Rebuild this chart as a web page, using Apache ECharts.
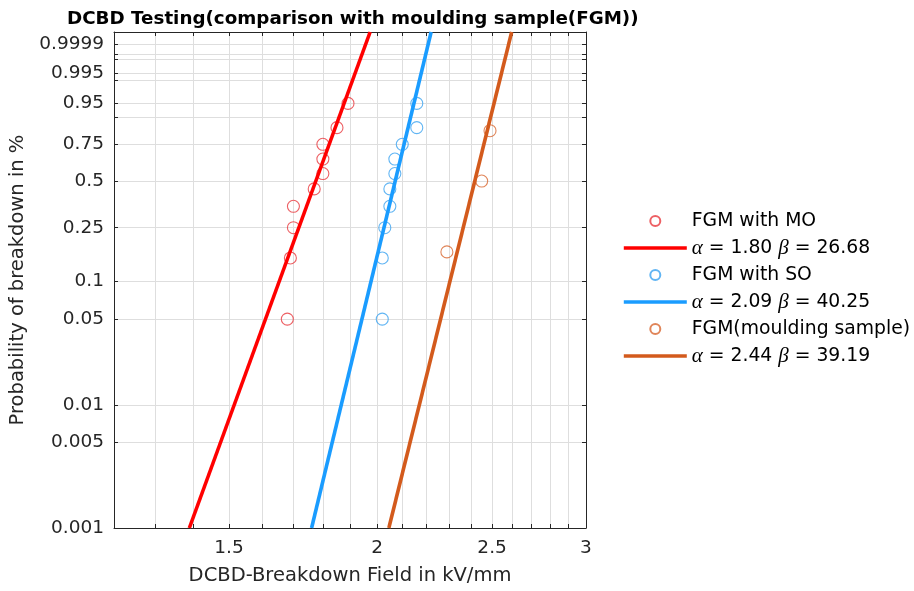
<!DOCTYPE html>
<html><head><meta charset="utf-8">
<script src="https://cdn.jsdelivr.net/npm/echarts@6/dist/echarts.min.js"></script>
<style>html,body{margin:0;padding:0;background:#fff}#c{width:914px;height:591px}</style>
</head><body><div id="c"></div>
<script>
// ---- data ----
const xRange = [1.2, 3];
const xTickLabels = [1.5, 2, 2.5, 3];
const xGridValues = [1.3,1.4,1.5,1.6,1.7,1.8,1.9,2.0,2.1,2.2,2.3,2.4,2.5,2.6,2.7,2.8,2.9];
const yRange = [0.001, 0.99999];
const yTickValues = [0.001,0.005,0.01,0.05,0.1,0.25,0.5,0.75,0.9,0.95,0.99,0.995,0.999,0.9995,0.9999];
const yTickLabels = ['0.001','0.005','0.01','0.05','0.1','0.25','0.5','0.75','0.95','0.995','0.9999'];

const seriesNames = ['FGM with MO', 'FGM with SO', 'FGM(moulding sample)'];
const fitNames = ['α = 1.80 β = 26.68', 'α = 2.09 β = 40.25', 'α = 2.44 β = 39.19'];

const moField = [1.68, 1.69, 1.70, 1.70, 1.77, 1.80, 1.80, 1.80, 1.85, 1.89];
const moProb  = [0.05, 0.15, 0.25, 0.35, 0.45, 0.55, 0.65, 0.75, 0.85, 0.95];
const soField = [2.02, 2.02, 2.03, 2.05, 2.05, 2.07, 2.07, 2.10, 2.16, 2.16];
const soProb  = [0.05, 0.15, 0.25, 0.35, 0.45, 0.55, 0.65, 0.75, 0.85, 0.95];
const fgmField = [2.29, 2.45, 2.49];
const fgmProb  = [0.1667, 0.5, 0.8333];

// fitted lines: field at the bottom (p = 0.001) and top (p = 0.99999) of the plot
const moFit  = [1.389, 1.973];
const soFit  = [1.761, 2.221];
const fgmFit = [2.046, 2.597];
const fitProb = [0.001, 0.99999];

// ---- Weibull paper transforms ----
const X = e => Math.log(e);
const Y = p => Math.log(-Math.log(1 - p));

const markColors = ['#e8383d', '#3aa3f0', '#d8662f'];
const lineColors = ['#ff0000', '#1a9cff', '#d35a1c'];

const FONT = 'DejaVu Sans';
const AX = '#262626';
const GRID = '#dedede';

function pts(field, prob) { return field.map((e, i) => [X(e), Y(prob[i])]); }

const xMin = X(xRange[0]), xMax = X(xRange[1]);
const yMin = Y(yRange[0]), yMax = Y(yRange[1]);
const xTickVals = xGridValues.map(X);
const xLabelVals = xTickLabels.map(X);
const yTickVals = yTickValues.map(Y);
const yLabelVals = yTickLabels.map(s => Y(parseFloat(s)));

function xFmt(v) {
  for (const t of xTickLabels) if (Math.abs(X(t) - v) < 1e-9) return String(t);
  return '';
}
function yFmt(v) {
  for (const s of yTickLabels) if (Math.abs(Y(parseFloat(s)) - v) < 1e-9) return s;
  return '';
}

const scatterData = [pts(moField, moProb), pts(soField, soProb), pts(fgmField, fgmProb)];
const fitData = [moFit, soFit, fgmFit].map(f => [[X(f[0]), Y(fitProb[0])], [X(f[1]), Y(fitProb[1])]]);

const series = [];
const legendData = [];
for (let i = 0; i < 3; i++) {
  series.push({
    name: seriesNames[i], type: 'scatter', symbol: 'circle', symbolSize: 12,
    xAxisIndex: 0, yAxisIndex: 0,
    itemStyle: { color: 'rgba(255,255,255,0)', borderColor: markColors[i], borderWidth: 1.1 },
    data: scatterData[i], z: 3
  });
  series.push({
    name: fitNames[i], type: 'line', symbol: 'none', showSymbol: false,
    xAxisIndex: 0, yAxisIndex: 0,
    lineStyle: { color: lineColors[i], width: 3.6 },
    itemStyle: { color: lineColors[i] },
    data: fitData[i], z: 4
  });
  legendData.push({ name: seriesNames[i] });
  legendData.push({
    name: fitNames[i],
    itemStyle: { color: 'rgba(0,0,0,0)', borderColor: 'rgba(0,0,0,0)', borderWidth: 0 },
    lineStyle: { color: lineColors[i], width: 3.6 }
  });
}

const baseAxisLine = { show: true, onZero: false, lineStyle: { color: AX, width: 1 } };

const option = {
  animation: false,
  backgroundColor: '#fff',
  title: {
    text: 'DCBD Testing(comparison with moulding sample(FGM))',
    left: 62, top: 5,
    textStyle: { fontFamily: FONT, fontWeight: 'bold', fontSize: 18.3, color: '#000' }
  },
  grid: { left: 114, right: 328, top: 32, bottom: 61, containLabel: false },
  legend: {
    data: legendData, orient: 'vertical', left: 617, top: 206,
    itemWidth: 63, itemHeight: 10, itemGap: 6.5,
    lineStyle: { width: 3.6 },
    formatter: n => n.replace(/([αβ])/g, '{g|$1}'),
    textStyle: {
      fontFamily: FONT, fontSize: 18.8, color: '#000', lineHeight: 20,
      rich: { g: { fontFamily: 'Liberation Serif', fontStyle: 'italic', fontSize: 21, lineHeight: 20, color: '#000' } }
    }
  },
  xAxis: [{
    type: 'value', min: xMin, max: xMax, position: 'bottom',
    name: 'DCBD-Breakdown Field in kV/mm', nameLocation: 'middle', nameGap: 38,
    nameTextStyle: { fontFamily: FONT, fontSize: 19.5, color: AX },
    axisLine: baseAxisLine,
    axisTick: { show: true, inside: true, length: 4, customValues: xTickVals, lineStyle: { color: AX } },
    axisLabel: { customValues: xLabelVals, formatter: xFmt, fontFamily: FONT, fontSize: 18.5, color: AX, margin: 11, showMinLabel: true, showMaxLabel: true },
    splitLine: { show: true, lineStyle: { color: GRID, width: 1 } }
  }, {
    type: 'value', min: xMin, max: xMax, position: 'top',
    axisLine: baseAxisLine,
    axisTick: { show: true, inside: true, length: 4, customValues: xTickVals, lineStyle: { color: AX } },
    axisLabel: { show: false }, splitLine: { show: false }
  }],
  yAxis: [{
    type: 'value', min: yMin, max: yMax, position: 'left',
    name: 'Probability of breakdown in %', nameLocation: 'middle', nameGap: 79, nameRotate: 90,
    nameTextStyle: { fontFamily: FONT, fontSize: 19.5, color: AX },
    axisLine: baseAxisLine,
    axisTick: { show: true, inside: true, length: 4, customValues: yTickVals, lineStyle: { color: AX } },
    axisLabel: { customValues: yLabelVals, formatter: yFmt, fontFamily: FONT, fontSize: 18.5, color: AX, margin: 10, showMinLabel: true, showMaxLabel: true },
    splitLine: { show: true, lineStyle: { color: GRID, width: 1 } }
  }, {
    type: 'value', min: yMin, max: yMax, position: 'right',
    axisLine: baseAxisLine,
    axisTick: { show: true, inside: true, length: 4, customValues: yTickVals, lineStyle: { color: AX } },
    axisLabel: { show: false }, splitLine: { show: false }
  }],
  series: series
};

const chart = echarts.init(document.getElementById('c'), null, { renderer: 'canvas' });
chart.setOption(option);
</script>
</body></html>
